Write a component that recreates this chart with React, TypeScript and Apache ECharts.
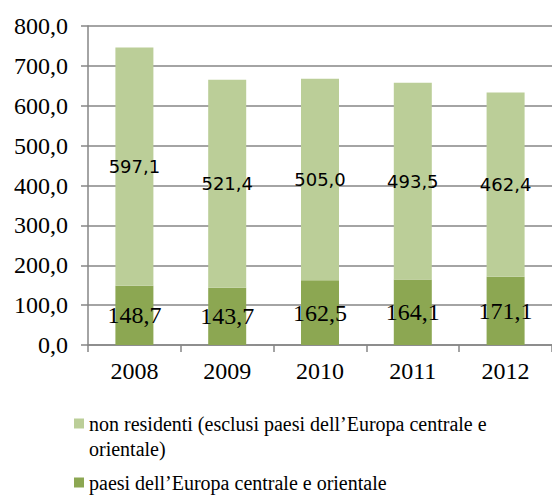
import React, { useEffect, useRef } from "react";
import * as echarts from "echarts";

const years = ["2008", "2009", "2010", "2011", "2012"];
const nonResidenti = [597.1, 521.4, 505.0, 493.5, 462.4];
const europaCentrale = [148.7, 143.7, 162.5, 164.1, 171.1];
const seriesNames = [
  "non residenti (esclusi paesi dell’Europa centrale e orientale)",
  "paesi dell’Europa centrale e orientale",
];
const legendLabels = [
  "\nnon residenti (esclusi paesi dell’Europa centrale e\norientale)",
  "paesi dell’Europa centrale e orientale",
];

const fmt = (v: number) => v.toFixed(1).replace(".", ",");
const serif = "'Liberation Serif', 'Times New Roman', serif";

export default function App() {
  const ref = useRef<HTMLDivElement>(null);
  useEffect(() => {
    if (!ref.current) return;
    const chart = echarts.init(ref.current, null, { renderer: "svg" });
    chart.setOption({
      animation: false,
      backgroundColor: "#ffffff",
      grid: { left: 88, top: 26, width: 475, height: 319, containLabel: false },
      xAxis: {
        type: "category",
        data: years,
        axisLine: { lineStyle: { color: "#868686", width: 1.5 } },
        axisTick: { show: true, length: 7, lineStyle: { color: "#868686", width: 1.5 } },
        axisLabel: { fontFamily: serif, fontSize: 24, color: "#000", margin: 14 },
      },
      yAxis: {
        type: "value",
        min: 0,
        max: 800,
        interval: 100,
        axisLine: { show: true, lineStyle: { color: "#868686", width: 1.5 } },
        axisTick: { show: true, length: 7, lineStyle: { color: "#868686", width: 1.5 } },
        splitLine: { lineStyle: { color: "#868686", width: 1.5 } },
        axisLabel: {
          fontFamily: serif,
          fontSize: 24,
          color: "#000",
          margin: 20,
          formatter: (v: number) => fmt(v),
        },
      },
      legend: [
        {
          orient: "vertical",
          left: 74,
          top: 386,
          padding: 0,
          itemWidth: 10,
          itemHeight: 10,
          itemGap: 5,
          icon: "rect",
          selectedMode: false,
          data: [seriesNames[0]],
          formatter: () => legendLabels[0],
          textStyle: { fontFamily: serif, fontSize: 20, lineHeight: 25, color: "#000" },
        },
        {
          orient: "vertical",
          left: 74,
          top: 470,
          padding: 0,
          itemWidth: 10,
          itemHeight: 10,
          icon: "rect",
          selectedMode: false,
          data: [seriesNames[1]],
          formatter: () => legendLabels[1],
          textStyle: { fontFamily: serif, fontSize: 20, lineHeight: 25, color: "#000" },
        },
      ],
      series: [
        {
          name: seriesNames[1],
          type: "bar",
          stack: "total",
          barWidth: 38,
          data: europaCentrale,
          itemStyle: { color: "#8CA752" },
          label: {
            show: true,
            position: "inside",
            fontFamily: serif,
            fontSize: 24,
            color: "#000",
            formatter: (p: any) => fmt(p.value),
          },
        },
        {
          name: seriesNames[0],
          type: "bar",
          stack: "total",
          barWidth: 38,
          data: nonResidenti,
          itemStyle: { color: "#BBCE98" },
          label: {
            show: true,
            position: "inside",
            fontFamily: "'DejaVu Sans', sans-serif",
            fontSize: 18,
            color: "#000",
            formatter: (p: any) => fmt(p.value),
          },
        },
      ],
    });
    return () => chart.dispose();
  }, []);
  return <div ref={ref} style={{ width: 552, height: 497, position: "absolute", left: 0, top: 0 }} />;
}
